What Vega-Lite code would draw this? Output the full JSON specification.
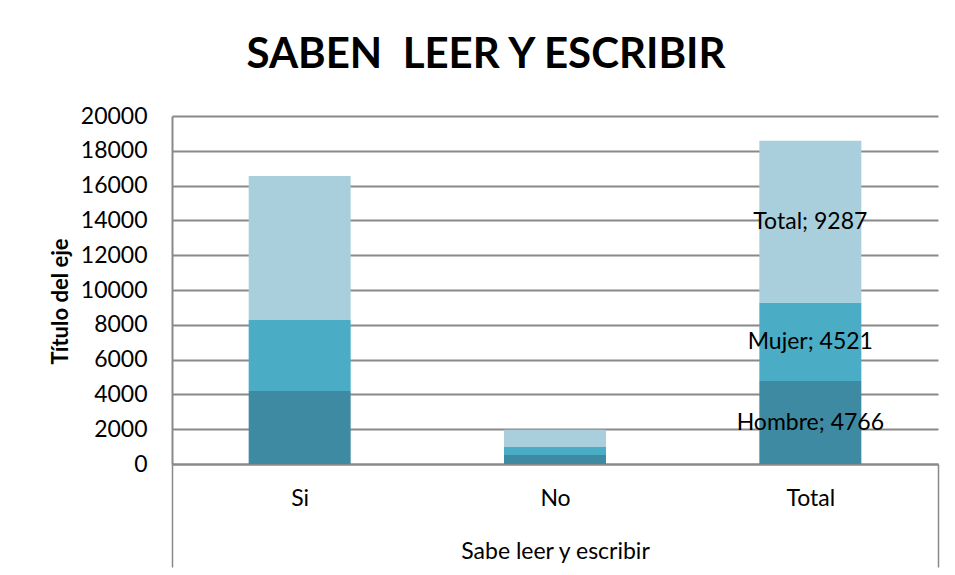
{
  "$schema": "https://vega.github.io/schema/vega-lite/v6.json",
  "width": 766,
  "height": 348,
  "autosize": {"type": "none"},
  "padding": {"left": 172, "top": 116, "right": 17, "bottom": 111},
  "background": "white",
  "config": {"view": {"stroke": null}, "font": "Lato"},
  "title": {
    "text": "SABEN \u00a0LEER Y ESCRIBIR",
    "font": "Lato",
    "fontSize": 42,
    "fontWeight": "bold",
    "color": "#000000",
    "anchor": "middle",
    "baseline": "alphabetic",
    "offset": -5,
    "dx": -69
  },
  "data": {
    "values": [
      {"cat": "Si", "serie": "Hombre", "ord": 1, "v": 4200, "label": ""},
      {"cat": "Si", "serie": "Mujer", "ord": 2, "v": 4075, "label": ""},
      {"cat": "Si", "serie": "Total", "ord": 3, "v": 8275, "label": ""},
      {"cat": "No", "serie": "Hombre", "ord": 1, "v": 520, "label": ""},
      {"cat": "No", "serie": "Mujer", "ord": 2, "v": 460, "label": ""},
      {"cat": "No", "serie": "Total", "ord": 3, "v": 990, "label": ""},
      {"cat": "Total", "serie": "Hombre", "ord": 1, "v": 4766, "label": "Hombre; 4766"},
      {"cat": "Total", "serie": "Mujer", "ord": 2, "v": 4521, "label": "Mujer; 4521"},
      {"cat": "Total", "serie": "Total", "ord": 3, "v": 9287, "label": "Total; 9287"}
    ]
  },
  "transform": [
    {"stack": "v", "groupby": ["cat"], "sort": [{"field": "ord", "order": "ascending"}], "as": ["v0", "v1"]}
  ],
  "encoding": {
    "x": {
      "field": "cat",
      "type": "nominal",
      "sort": ["Si", "No", "Total"],
      "scale": {"paddingInner": 0, "paddingOuter": 0},
      "axis": {
        "title": "Sabe leer y escribir",
        "titleFont": "Lato",
        "titleFontSize": 23,
        "titleFontWeight": "normal",
        "titleColor": "#000000",
        "titleBaseline": "middle",
        "titleY": 87,
        "labelAngle": 0,
        "labelFont": "Lato",
        "labelFontSize": 23,
        "labelColor": "#000000",
        "labelBaseline": "middle",
        "labelPadding": -69,
        "tickBand": "extent",
        "tickSize": 103,
        "tickColor": "#898989",
        "tickWidth": 1.5,
        "tickOpacity": {"condition": {"test": "datum.index == 1 || datum.index < 0", "value": 1}, "value": 0},
        "domainColor": "#898989",
        "domainWidth": 2,
        "grid": false
      }
    }
  },
  "layer": [
    {
      "mark": {"type": "bar", "size": 102},
      "encoding": {
        "y": {
          "field": "v1",
          "type": "quantitative",
          "title": "Título del eje",
          "scale": {"domain": [0, 20000], "nice": false},
          "axis": {
            "titleFont": "Lato",
            "titleFontSize": 22,
            "titleFontWeight": "bold",
            "titleColor": "#000000",
            "titlePadding": 8,
            "titleY": 185,
            "titleAlign": "center",
            "values": [0, 2000, 4000, 6000, 8000, 10000, 12000, 14000, 16000, 18000, 20000],
            "format": "d",
            "labelOverlap": false,
            "labelFont": "Lato",
            "labelFontSize": 23,
            "labelColor": "#000000",
            "labelPadding": 25,
            "ticks": false,
            "grid": true,
            "gridColor": "#898989",
            "gridWidth": 2,
            "domainColor": "#898989",
            "domainWidth": 2
          }
        },
        "y2": {"field": "v0"},
        "color": {
          "field": "serie",
          "type": "nominal",
          "scale": {"domain": ["Hombre", "Mujer", "Total"], "range": ["#3E8AA2", "#4BACC6", "#A9CFDD"]},
          "legend": null
        }
      }
    },
    {
      "transform": [
        {"filter": "datum.label != ''"},
        {"fold": ["v0", "v1"], "as": ["k", "kv"]},
        {"aggregate": [{"op": "mean", "field": "kv", "as": "mid"}], "groupby": ["cat", "serie", "label"]}
      ],
      "mark": {"type": "text", "font": "Lato", "fontSize": 23, "color": "#000000", "baseline": "middle"},
      "encoding": {
        "y": {
          "field": "mid",
          "type": "quantitative",
          "title": "Título del eje",
          "axis": {
            "titleFont": "Lato",
            "titleFontSize": 22,
            "titleFontWeight": "bold",
            "titleColor": "#000000",
            "titlePadding": 8,
            "titleY": 185,
            "titleAlign": "center",
            "values": [0, 2000, 4000, 6000, 8000, 10000, 12000, 14000, 16000, 18000, 20000],
            "format": "d",
            "labelOverlap": false,
            "labelFont": "Lato",
            "labelFontSize": 23,
            "labelColor": "#000000",
            "labelPadding": 25,
            "ticks": false,
            "grid": true,
            "gridColor": "#898989",
            "gridWidth": 2,
            "domainColor": "#898989",
            "domainWidth": 2
          }
        },
        "text": {"field": "label", "type": "nominal"}
      }
    }
  ]
}
